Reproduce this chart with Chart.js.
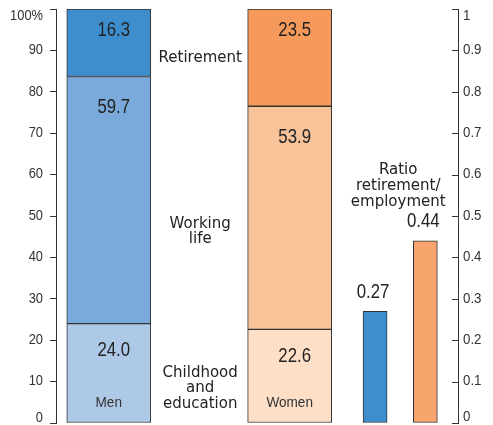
<!DOCTYPE html>
<html>
<head>
<meta charset="utf-8">
<script src="https://cdn.jsdelivr.net/npm/chart.js@4/dist/chart.umd.min.js"></script>
<style>
  html, body { margin: 0; padding: 0; background: #ffffff; }
  #wrap { width: 493px; height: 425px; }
</style>
</head>
<body>
<div id="wrap"><canvas id="c" width="493" height="425"></canvas></div>
<script>
// ---- data ----
const categories = ['Men', 'Women'];
const segments = ['Childhood and education', 'Working life', 'Retirement'];
const segmentText = [['Childhood', 'and', 'education'], ['Working', 'life'], ['Retirement']];
const menShares = [24.0, 59.7, 16.3];
const womenShares = [22.6, 53.9, 23.5];
const ratioTitle = ['Ratio', 'retirement/', 'employment'];
const ratioValues = [0.27, 0.44];

// ---- layout / style (not data) ----
const SLOT_COUNT = 80;
const slotMen = 10, slotWomen = 46, slotRatioMen = 63, slotRatioWomen = 73;
const menColors = ['#aec8e7', '#7aaadb', '#3e8ecd'];
const womenColors = ['#fddfc8', '#f9c39a', '#f69a5b'];
const ratioColors = ['#3e8ecd', '#f7a56c'];
const valueLabelOffset = [27, 31, 21];
const annotationValue = [8.4, 46.2, 88.2];
const ratioTitleValue = 0.571;

const slotLabels = Array(SLOT_COUNT).fill('');
slotLabels[slotMen] = categories[0];
slotLabels[slotWomen] = categories[1];
slotLabels[slotRatioMen] = 'Ratio ' + categories[0];
slotLabels[slotRatioWomen] = 'Ratio ' + categories[1];

const datasets = segments.map((name, s) => {
  const d = Array(SLOT_COUNT).fill(null);
  d[slotMen] = menShares[s];
  d[slotWomen] = womenShares[s];
  return {
    label: name,
    yAxisID: 'y',
    data: d,
    backgroundColor: ctx => ctx.dataIndex === slotMen ? menColors[s] : womenColors[s],
    borderColor: '#333333',
    borderWidth: 1,
    borderSkipped: false,
    barThickness: 84
  };
});
const ratioData = Array(SLOT_COUNT).fill(null);
ratioData[slotRatioMen] = ratioValues[0];
ratioData[slotRatioWomen] = ratioValues[1];
datasets.push({
  label: 'Ratio retirement/employment',
  yAxisID: 'y2',
  data: ratioData,
  backgroundColor: ctx => ctx.dataIndex === slotRatioMen ? ratioColors[0] : ratioColors[1],
  borderColor: '#333333',
  borderWidth: 1,
  borderSkipped: false,
  barThickness: 24
});

const TICK_FONT = '14px "Liberation Sans", Arial, sans-serif';
const NUM_FONT = '20px "Liberation Sans", Arial, sans-serif';
const TEXT_FONT = '15px "DejaVu Sans", sans-serif';

function textScaled(ctx, text, x, y, sx) {
  ctx.save();
  ctx.translate(x, y);
  ctx.scale(sx, 1);
  ctx.fillText(text, 0, 0);
  ctx.restore();
}

const drawPlugin = {
  id: 'drawPlugin',
  afterDraw(chart) {
    const ctx = chart.ctx;
    const area = chart.chartArea;
    const ys = chart.scales.y, y2 = chart.scales.y2;
    ctx.save();
    // left tick labels
    ctx.font = TICK_FONT;
    ctx.fillStyle = '#333333';
    ctx.textBaseline = 'middle';
    ctx.textAlign = 'right';
    ys.ticks.forEach(t => {
      let p = ys.getPixelForValue(t.value);
      p = Math.min(Math.max(p, area.top + 7), area.bottom - 5);
      textScaled(ctx, t.label, area.left - 13, p, 0.92);
    });
    // right ticks (inside) and labels
    ctx.strokeStyle = '#333333';
    ctx.lineWidth = 1;
    ctx.textAlign = 'left';
    y2.ticks.forEach(t => {
      const p0 = y2.getPixelForValue(t.value);
      const py = Math.round(p0) + 0.5;
      ctx.beginPath();
      ctx.moveTo(area.right - 6, py);
      ctx.lineTo(area.right, py);
      ctx.stroke();
      const p = Math.min(Math.max(p0, area.top + 7), area.bottom - 6);
      textScaled(ctx, t.label, area.right + 5, p, 0.95);
    });

    // values inside stacked bars + category names
    ctx.fillStyle = '#222222';
    ctx.textAlign = 'center';
    for (let s = 0; s < segments.length; s++) {
      const meta = chart.getDatasetMeta(s);
      [slotMen, slotWomen].forEach(idx => {
        const el = meta.data[idx];
        const v = chart.data.datasets[s].data[idx];
        ctx.font = NUM_FONT;
        textScaled(ctx, v.toFixed(1), el.x + 5, el.y + valueLabelOffset[s], 0.84);
      });
    }
    const baseMeta = chart.getDatasetMeta(0);
    ctx.font = TICK_FONT;
    ctx.fillStyle = '#333333';
    [slotMen, slotWomen].forEach((idx, k) => {
      const el = baseMeta.data[idx];
      textScaled(ctx, categories[k], el.x, el.base - 19, 0.97);
    });

    // ratio values above bars
    const rMeta = chart.getDatasetMeta(segments.length);
    ctx.font = NUM_FONT;
    ctx.fillStyle = '#222222';
    [slotRatioMen, slotRatioWomen].forEach((idx, k) => {
      const el = rMeta.data[idx];
      textScaled(ctx, ratioValues[k].toFixed(2), el.x - 2, el.y - 19, 0.84);
    });

    // segment annotations between the two stacked bars
    const menEl = baseMeta.data[slotMen], womenEl = baseMeta.data[slotWomen];
    const midX = ((menEl.x + menEl.width / 2) + (womenEl.x - womenEl.width / 2)) / 2 + 1;
    ctx.font = TEXT_FONT;
    ctx.fillStyle = '#222222';
    const lh = 15.5;
    segmentText.forEach((lines, s) => {
      const cy = ys.getPixelForValue(annotationValue[s]);
      lines.forEach((line, i) => {
        ctx.fillText(line, midX, cy + (i - (lines.length - 1) / 2) * lh);
      });
    });
    // ratio title
    const rx = (rMeta.data[slotRatioMen].x + rMeta.data[slotRatioWomen].x) / 2 - 2;
    const ry = y2.getPixelForValue(ratioTitleValue);
    ratioTitle.forEach((line, i) => {
      ctx.fillText(line, rx, ry + (i - 1) * 16);
    });
    ctx.restore();
  }
};

new Chart(document.getElementById('c'), {
  type: 'bar',
  data: { labels: slotLabels, datasets },
  options: {
    responsive: false,
    animation: false,
    devicePixelRatio: 1,
    layout: { padding: { left: 50, right: 35, top: 9, bottom: 2 } },
    plugins: { legend: { display: false }, tooltip: { enabled: false } },
    scales: {
      x: { type: 'category', display: false, stacked: true, offset: true },
      y: {
        position: 'left', min: 0, max: 100, stacked: true,
        ticks: { display: false, stepSize: 10, callback: v => v === 100 ? '100%' : String(v) },
        grid: { drawOnChartArea: false, drawTicks: true, tickLength: 6, color: '#333333', lineWidth: 1 },
        border: { display: true, color: '#333333', width: 1 }
      },
      y2: {
        position: 'right', min: 0, max: 1, stacked: false,
        ticks: { display: false, stepSize: 0.1, callback: v => String(Math.round(v * 10) / 10) },
        grid: { drawOnChartArea: false, drawTicks: false },
        border: { display: true, color: '#333333', width: 1 }
      }
    }
  },
  plugins: [drawPlugin]
});
</script>
</body>
</html>
